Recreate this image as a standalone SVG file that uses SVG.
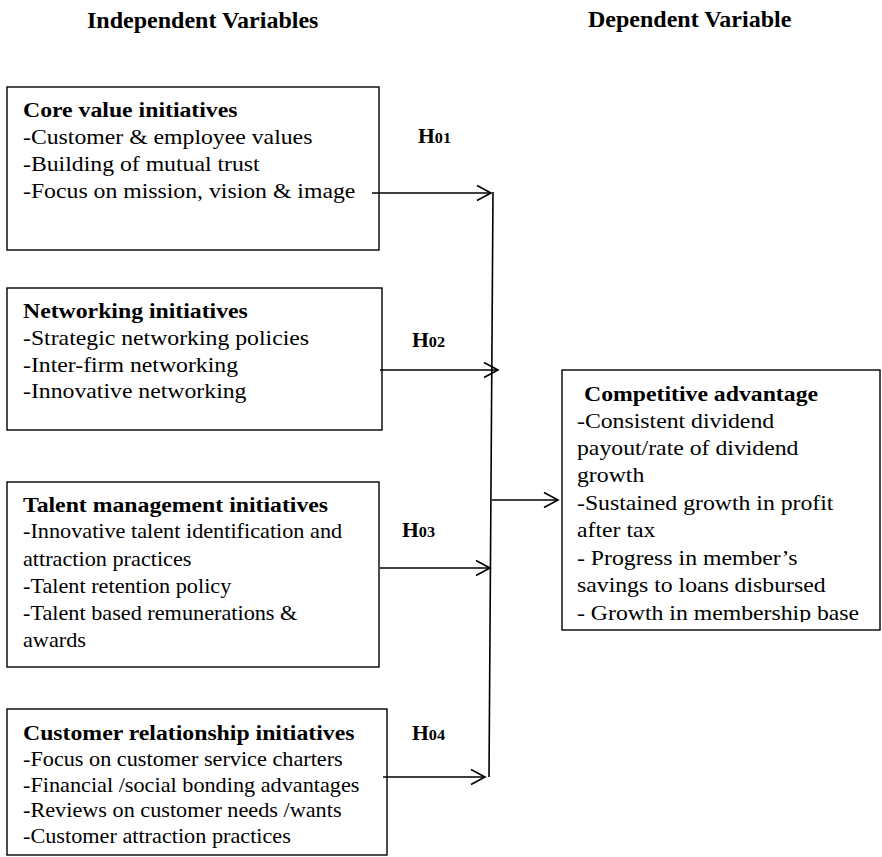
<svg xmlns="http://www.w3.org/2000/svg" width="882" height="857" viewBox="0 0 882 857">
<style>
text{font-family:"Liberation Serif","Times New Roman",serif;font-size:22px;fill:#000}
.b{font-weight:bold}
.t{font-weight:bold;font-size:24px}
.s{font-size:20.6px}
.h{font-weight:bold;font-size:20px}
.h tspan{font-size:15px}
.box{fill:#fff;stroke:#000;stroke-width:1.4}
.con{stroke:#000;stroke-width:1.6;fill:none}
</style>
<defs>
<marker id="ah" markerUnits="userSpaceOnUse" markerWidth="20" markerHeight="20" viewBox="-17 -10 20 20" refX="0" refY="0" orient="auto">
<path d="M-14,-7.5 L0,0 L-14,7.5" fill="none" stroke="#000" stroke-width="1.6"/>
</marker>
<clipPath id="depclip"><rect x="562" y="371" width="318" height="251"/></clipPath>
</defs>
<rect width="882" height="857" fill="#fff"/>
<text class="t" x="87" y="28">Independent Variables</text>
<text class="t" x="588" y="27">Dependent Variable</text>

<g id="core-value">
<rect class="box" x="7" y="87" width="372" height="163"/>
<g transform="translate(23 0) scale(1.08 1)">
<text class="b" x="0" y="117">Core value initiatives</text>
<text x="0" y="144">-Customer &amp; employee values</text>
<text x="0" y="171">-Building of mutual trust</text>
<text x="0" y="198">-Focus on mission, vision &amp; image</text>
</g>
</g>

<g id="networking">
<rect class="box" x="7" y="288" width="375" height="142"/>
<g transform="translate(23 0) scale(1.08 1)">
<text class="b" x="0" y="318">Networking initiatives</text>
<text x="0" y="345">-Strategic networking policies</text>
<text x="0" y="372">-Inter-firm networking</text>
<text x="0" y="398">-Innovative networking</text>
</g>
</g>

<g id="talent">
<rect class="box" x="7" y="482" width="372" height="185"/>
<g transform="translate(23 0) scale(1.08 1)">
<text class="b" x="0" y="512">Talent management initiatives</text>
<text class="s" x="0" y="538">-Innovative talent identification and</text>
<text class="s" x="0" y="566">attraction practices</text>
<text class="s" x="0" y="593">-Talent retention policy</text>
<text class="s" x="0" y="620">-Talent based remunerations &amp;</text>
<text class="s" x="0" y="647">awards</text>
</g>
</g>

<g id="customer-relationship">
<rect class="box" x="7" y="709" width="380" height="146"/>
<g transform="translate(23 0) scale(1.08 1)">
<text class="b" x="0" y="740">Customer relationship initiatives</text>
<text class="s" x="0" y="766">-Focus on customer service charters</text>
<text class="s" x="0" y="792">-Financial /social bonding advantages</text>
<text class="s" x="0" y="817">-Reviews on customer needs /wants</text>
<text class="s" x="0" y="843">-Customer attraction practices</text>
</g>
</g>

<g id="competitive-advantage">
<rect class="box" x="562" y="370" width="318" height="260"/>
<g clip-path="url(#depclip)">
<g transform="translate(577 0) scale(1.08 1)">
<text class="b" x="6.5" y="401">Competitive advantage</text>
<text x="0" y="428">-Consistent dividend</text>
<text x="0" y="455">payout/rate of dividend</text>
<text x="0" y="482">growth</text>
<text x="0" y="510">-Sustained growth in profit</text>
<text x="0" y="537">after tax</text>
<text x="0" y="565">- Progress in member’s</text>
<text x="0" y="592">savings to loans disbursed</text>
<text x="0" y="620">- Growth in membership base</text>
</g>
</g>
</g>

<g id="connectors">
<line class="con" x1="493" y1="192" x2="489" y2="777"/>
<line class="con" x1="372" y1="193" x2="491" y2="193" marker-end="url(#ah)"/>
<line class="con" x1="380" y1="370" x2="498" y2="370" marker-end="url(#ah)"/>
<line class="con" x1="380" y1="568" x2="490" y2="568" marker-end="url(#ah)"/>
<line class="con" x1="383" y1="777" x2="485" y2="777" marker-end="url(#ah)"/>
<line class="con" x1="492" y1="500" x2="558" y2="500" marker-end="url(#ah)"/>
<g transform="translate(418 0) scale(1.08 1)"><text class="h" x="0" y="143">H<tspan>01</tspan></text></g>
<g transform="translate(412 0) scale(1.08 1)"><text class="h" x="0" y="347">H<tspan>02</tspan></text></g>
<g transform="translate(402 0) scale(1.08 1)"><text class="h" x="0" y="537">H<tspan>03</tspan></text></g>
<g transform="translate(412 0) scale(1.08 1)"><text class="h" x="0" y="740">H<tspan>04</tspan></text></g>
</g>
</svg>
